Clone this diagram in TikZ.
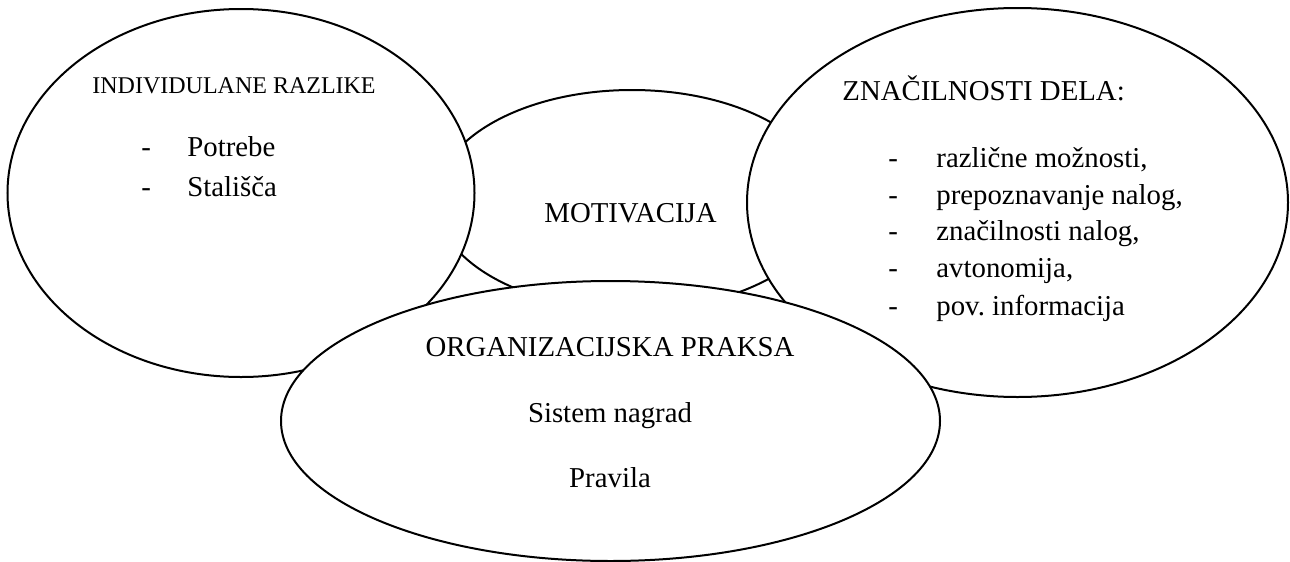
\documentclass[tikz,border=0pt]{standalone}
\usepackage{fontspec}
\setmainfont{Liberation Serif}
\usetikzlibrary{shapes.geometric}
\frenchspacing
\begin{document}
\begin{tikzpicture}[x=0.5pt,y=-0.5pt,
  bubble/.style={ellipse, draw, fill=white, line width=1pt, inner sep=0pt, outer sep=0pt},
  txt/.style={inner sep=0pt, font=\fontsize{14.4}{17}\selectfont},
  lbl/.style={txt, anchor=base west},
  mid/.style={txt, anchor=base},
  small/.style={anchor=base west, inner sep=0pt, font=\fontsize{12}{14}\selectfont}]
\useasboundingbox (0,0) rectangle (1290,562);

% the four overlapping bubbles, back to front
\node[bubble, minimum width=196pt, minimum height=110pt] (motiv) at (632,200) {};
\node[bubble, minimum width=233.5pt, minimum height=184pt] (indiv) at (241,193) {};
\node[bubble, minimum width=270.5pt, minimum height=194.5pt] (delo) at (1017.5,202.5) {};
\node[bubble, minimum width=329.5pt, minimum height=140pt] (org) at (610.5,421) {};

% individual differences
\node[small] (indivT) at (92,93) {INDIVIDULANE RAZLIKE};
\node[lbl] (indivD1) at (141,156) {-};
\node[lbl] (indivA) at (187,156) {Potrebe};
\node[lbl] (indivD2) at (141,196) {-};
\node[lbl] (indivB) at (187,196) {Stališča};

% motivation
\node[lbl] (motivT) at (544,222) {MOTIVACIJA};

% job characteristics
\node[lbl] (deloT) at (842,100) {ZNAČILNOSTI DELA:};
\foreach \y/\t [count=\i] in {167/{različne možnosti,}, 204/{prepoznavanje nalog,},
    240/{značilnosti nalog,}, 277/{avtonomija,}, 315/{pov. informacija}} {
  \node[lbl] (deloD\i) at (888,\y) {-};
  \node[lbl] (deloI\i) at (936,\y) {\t};
}

% organisational practice
\node[mid] (orgT) at (610,356) {ORGANIZACIJSKA PRAKSA};
\node[mid] (orgA) at (610,422) {Sistem nagrad};
\node[mid] (orgB) at (610,487) {Pravila};
\end{tikzpicture}
\end{document}
